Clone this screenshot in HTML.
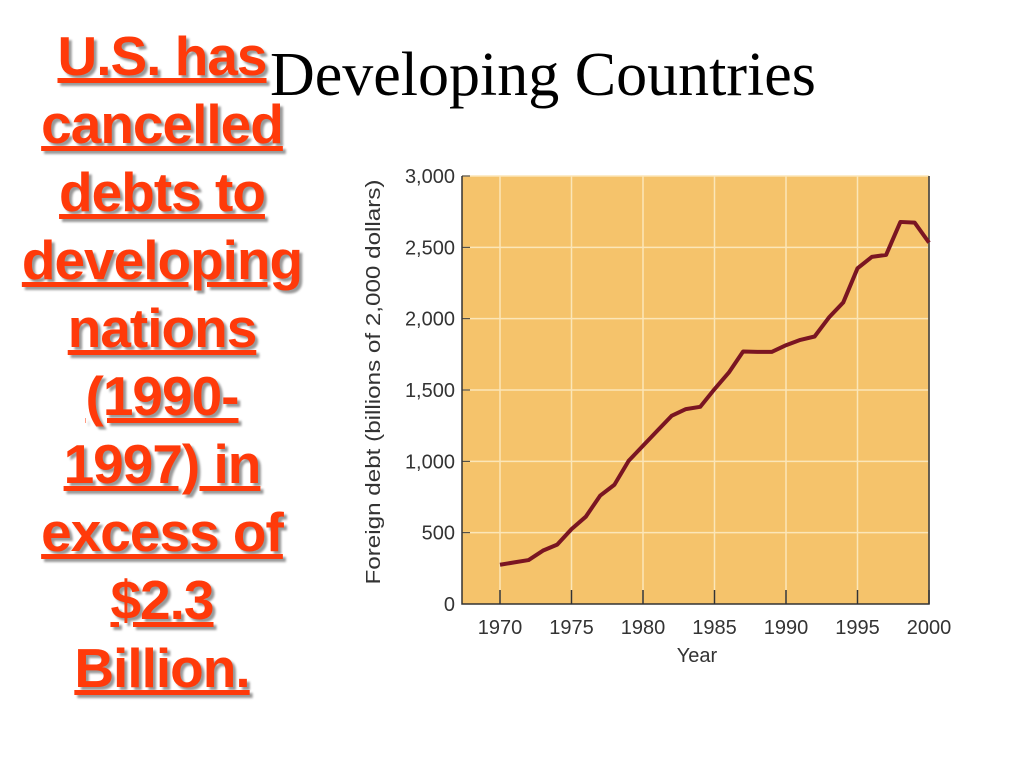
<!DOCTYPE html>
<html><head><meta charset="utf-8"><style>
body{margin:0;width:1024px;height:768px;background:#fff;overflow:hidden;position:relative}
#side{position:absolute;left:0;top:22px;width:324px;text-align:center;font:bold 55px/68px "Liberation Sans",sans-serif;color:#ff3a0a;text-decoration:underline;text-shadow:3px 3px 2px #999;letter-spacing:-1px}
#title{position:absolute;left:270px;top:40px;font:62px "Liberation Serif",serif;color:#000;white-space:nowrap}
svg{position:absolute;left:0;top:0}
</style></head><body>
<svg id="chart" width="1024" height="768"></svg>
<div id="side">U.S. has<br>cancelled<br>debts to<br>developing<br>nations<br>(1990-<br>1997) in<br>excess of<br>$2.3<br>Billion.</div>
<div id="title">Developing Countries</div>
<script>
const years=[1970,1971,1972,1973,1974,1975,1976,1977,1978,1979,1980,1981,1982,1983,1984,1985,1986,1987,1988,1989,1990,1991,1992,1993,1994,1995,1996,1997,1998,1999,2000];
const debt=[275,292,308,374,416,525,612,759,836,1004,1109,1214,1319,1366,1382,1506,1622,1770,1767,1767,1814,1851,1875,2008,2113,2353,2433,2447,2678,2673,2533];
const xTicks=[1970,1975,1980,1985,1990,1995,2000];
const yTicks=[0,500,1000,1500,2000,2500,3000];
const yLabels=["0","500","1,000","1,500","2,000","2,500","3,000"];
const NS="http://www.w3.org/2000/svg",svg=document.getElementById('chart');
const X=v=>500+(v-1970)*(429/30), Y=v=>604-v*(428/3000);
function mk(t,a,p){const e=document.createElementNS(NS,t);for(const k in a)e.setAttribute(k,a[k]);(p||svg).appendChild(e);return e;}
const bg=mk('rect',{x:462,y:Y(3000),width:X(2000)-462,height:Y(0)-Y(3000),fill:'#f5c36b'});


yTicks.forEach((v,i)=>{
 if(v>0){const g=mk('line',{x1:462,x2:X(2000),y1:Y(v),y2:Y(v),stroke:'#fbe6b8','stroke-width':1.5});
 
 }
 const t=mk('text',{x:455,y:Y(v)+7,'text-anchor':'end','font-family':'Liberation Sans, sans-serif','font-size':20,fill:'#333'});
 t.textContent=yLabels[i];
 
 
 const tk=mk('line',{x1:462,x2:470,y1:Y(v),y2:Y(v),stroke:'#333','stroke-width':1});
 
 
});
xTicks.forEach(v=>{
 const g=mk('line',{x1:X(v),x2:X(v),y1:Y(3000),y2:Y(0),stroke:'#fbe6b8','stroke-width':1.5});
 
 
 const tk=mk('line',{x1:X(v),x2:X(v),y1:Y(0)-14,y2:Y(0),stroke:'#333','stroke-width':1.5});
 
 
 const t=mk('text',{x:X(v),y:634,'text-anchor':'middle','font-family':'Liberation Sans, sans-serif','font-size':20,fill:'#333'});
 t.textContent=v;
 
 
});
const fr=mk('path',{d:`M462 ${Y(3000)} V${Y(0)} H${X(2000)} V${Y(3000)}`,fill:'none',stroke:'#333','stroke-width':1.5});


const ln=mk('polyline',{points:years.map((y,i)=>X(y)+','+Y(debt[i])).join(' '),fill:'none',stroke:'#7a1522','stroke-width':4,'stroke-linejoin':'round'});


const xt=mk('text',{x:697,y:662,'text-anchor':'middle','font-family':'Liberation Sans, sans-serif','font-size':20,fill:'#333'});
xt.textContent='Year';


const yt=mk('text',{x:0,y:0,'text-anchor':'middle','font-family':'Liberation Sans, sans-serif','font-size':20,fill:'#333',textLength:405,lengthAdjust:'spacingAndGlyphs',transform:'translate(380,382) rotate(-90)'});
yt.textContent='Foreign debt (billions of 2,000 dollars)';


</script>
</body></html>
